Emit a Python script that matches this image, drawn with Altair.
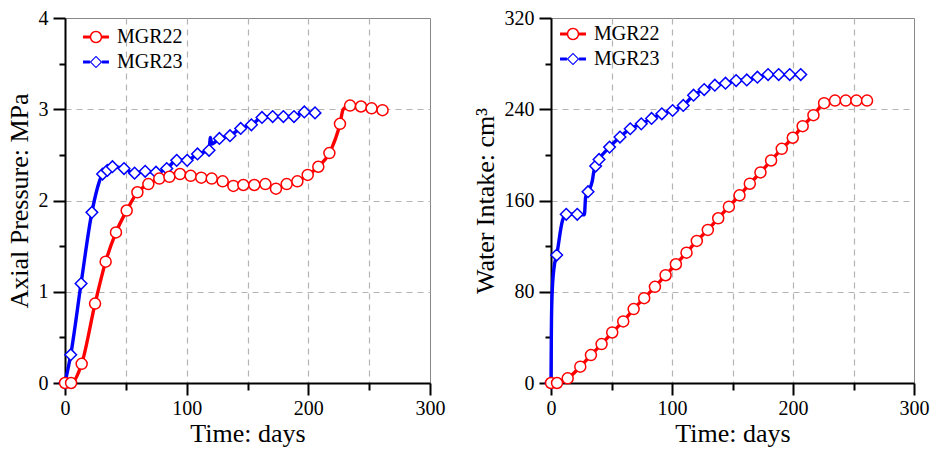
import altair as alt
import pandas as pd

SERIES = ["MGR22", "MGR23"]
COLORS = ["#ff0000", "#0000ff"]
FONT = "Liberation Serif"

# ---- Axial pressure (MPa) ----
ap22_day = [0, 5, 13.7, 24.7, 33.4, 41.9, 50.7, 59.5, 68.5, 77.5, 85.8, 94.5, 103.3, 112, 120.6,
            129.6, 138.4, 146.6, 155.6, 164.7, 173.4, 182.2, 191, 199.5, 208.2, 217.3, 226, 228.7,
            234.3, 243.3, 252, 261, 265.5]
ap22_val = [0, 0, 0.21, 0.87, 1.33, 1.65, 1.89, 2.09, 2.18, 2.24, 2.26, 2.29, 2.27, 2.25, 2.24,
            2.21, 2.16, 2.17, 2.17, 2.18, 2.13, 2.18, 2.21, 2.28, 2.37, 2.52, 2.84, 3.0,
            3.04, 3.03, 3.01, 2.99, 2.99]
ap22_mark = [1] * 27 + [0] + [1] * 4 + [0]

ap23_day = [0, 4.7, 13.2, 22.1, 30.9, 34.8, 39.0, 48.5, 57.2, 65.9, 74.8, 83.6, 91.8, 100.4, 108.9,
            118.4, 119.5, 120.6, 126.9, 135.6, 144.4, 153.2, 161.9, 170.7, 179.5, 188.2, 196.7,
            205.5, 209.5]
ap23_val = [0, 0.31, 1.09, 1.87, 2.29, 2.33, 2.37, 2.35, 2.30, 2.32, 2.31, 2.35, 2.44, 2.44, 2.51,
            2.55, 2.69, 2.62, 2.68, 2.71, 2.79, 2.83, 2.91, 2.92, 2.92, 2.92, 2.97, 2.96, 2.96]
ap23_mark = [1] * 16 + [0, 0] + [1] * 10 + [0]

# ---- Water intake (cm3) ----
wi22_day = [0, 5, 13.8, 24.2, 33, 41.8, 50.6, 59.7, 68.3, 77, 85.9, 94.7, 103.2, 112, 120.5, 129.6,
            138.2, 147, 155.8, 164.3, 173.1, 181.9, 190.7, 199.8, 208, 216.9, 225.7, 234.7, 243.6,
            252.4, 261.2, 265.5]
wi22_val = [0, 0, 4.1, 14.3, 24.5, 34.1, 44.3, 54, 64.8, 74.4, 84.3, 94.5, 104.1, 114.3, 124.6,
            134.2, 144.4, 154.6, 164.5, 174.7, 184.6, 195.1, 205.3, 215, 225.2, 234.8, 245.3, 247.6,
            247.6, 247.6, 247.6, 247.6]
wi22_mark = [1] * 31 + [0]

wi23_day = [0, 0.3, 0.8, 2.5, 4.7, 9.4, 12.6, 21.7, 27.6, 28.6, 30.6, 34.1, 35.5, 36.9, 39.7, 48.4,
            57, 65.5, 74.6, 83.1, 91.6, 100.5, 109.3, 117.8, 126.6, 135.4, 144.2, 153, 161.8, 170.6,
            179.4, 188.2, 197.3, 206.4]
wi23_val = [0, 45, 75, 101, 112.2, 142, 147.9, 147.9, 147.5, 163, 167.7, 177, 186, 190.2, 196,
            206.8, 215.6, 222.9, 227.2, 231.9, 236, 238.9, 243.3, 252.3, 257.3, 261.1, 262.8, 265.2,
            265.7, 268.1, 270.4, 270.4, 270.4, 270.4]
wi23_mark = [1, 0, 0, 0, 1, 0, 1, 1, 0, 0, 1, 0, 0, 1, 1] + [1] * 19


def frame(d22, v22, m22, d23, v23, m23):
    rows = []
    for s, ds, vs, ms in (("MGR22", d22, v22, m22), ("MGR23", d23, v23, m23)):
        for i, (d, v, m) in enumerate(zip(ds, vs, ms)):
            rows.append({"series": s, "day": d, "value": v, "mark": m, "order": i})
    return pd.DataFrame(rows)


# legend symbols: line segment + hollow marker, drawn as filled ring paths
LINE_SEG = "M-2.36,-0.27L-1.1,-0.27L-1.1,0.27L-2.36,0.27Z M1.1,-0.27L2.36,-0.27L2.36,0.27L1.1,0.27Z "
CIRCLE_PATH = (LINE_SEG + "M1.13,0A1.13,1.13,0,1,1,-1.13,0A1.13,1.13,0,1,1,1.13,0Z "
               "M0.86,0A0.86,0.86,0,1,0,-0.86,0A0.86,0.86,0,1,0,0.86,0Z")
DIAMOND_PATH = (LINE_SEG + "M0,-1.15L1.15,0L0,1.15L-1.15,0Z "
                "M0,-0.86L-0.86,0L0,0.86L0.86,0Z")

X_TICKS = [0, 50, 100, 150, 200, 250, 300]


def panel(df, ymax, ystep, ymajor, ytitle, w, lx, ly):
    yticks = [ystep * i for i in range(int(round(ymax / ystep)) + 1)]
    xaxis = alt.Axis(
        values=X_TICKS,
        labelExpr="datum.value % 100 === 0 ? datum.label : ''",
        tickSize={"condition": {"test": "datum.value % 100 === 0", "value": 12}, "value": 7},
        gridOpacity={"condition": {"test": "datum.value > 0 && datum.value < 300", "value": 1}, "value": 0},
        labelPadding=3, titlePadding=2, labelFlush=False, labelOverlap=False, labelBound=False,
    )
    yaxis = alt.Axis(
        values=yticks,
        labelExpr=f"abs(datum.value % {ymajor}) < 1e-9 ? format(datum.value, 'd') : ''",
        tickSize={"condition": {"test": f"abs(datum.value % {ymajor}) < 1e-9", "value": 12}, "value": 6},
        gridOpacity={"condition": {"test": f"abs(datum.value % {ymajor}) < 1e-9 && datum.value > 0 && datum.value < {ymax}", "value": 1}, "value": 0},
        labelPadding=5, titlePadding=6, labelFlush=False, labelOverlap=False, labelBound=False,
    )
    x = alt.X("day:Q", scale=alt.Scale(domain=[0, 300], nice=False, zero=False), axis=xaxis, title="Time: days")
    y = alt.Y("value:Q", scale=alt.Scale(domain=[0, ymax], nice=False, zero=False), axis=yaxis, title=ytitle)
    base = alt.Chart(df)
    line22 = base.transform_filter("datum.series == 'MGR22'").mark_line(
        strokeWidth=3.4, interpolate="monotone", color=COLORS[0]
    ).encode(x=x, y=y, order="order:Q")
    line23 = base.transform_filter("datum.series == 'MGR23'").mark_line(
        strokeWidth=3.4, interpolate="monotone", color=COLORS[1]
    ).encode(x=x, y=y, order="order:Q")
    pts22 = base.transform_filter("datum.mark == 1 && datum.series == 'MGR22'").mark_point(
        shape="circle", size=121, filled=True, fill="white", stroke=COLORS[0], strokeWidth=1.5, opacity=1
    ).encode(x=x, y=y)
    pts23 = base.transform_filter("datum.mark == 1 && datum.series == 'MGR23'").mark_point(
        shape="diamond", size=135, filled=True, fill="white", stroke=COLORS[1], strokeWidth=1.5, opacity=1
    ).encode(x=x, y=y)
    leg = alt.Legend(orient="none", legendX=lx, legendY=ly, title=None, symbolSize=121,
                     labelFont=FONT, labelFontSize=20, labelColor="black", labelOffset=11,
                     rowPadding=5, padding=0, symbolStrokeWidth=0, symbolOpacity=1)
    legend_layer = base.transform_filter("datum.mark == 1").mark_point(filled=True, strokeWidth=0).encode(
        x=x, y=y,
        shape=alt.Shape("series:N", scale=alt.Scale(domain=SERIES, range=[CIRCLE_PATH, DIAMOND_PATH]), legend=leg),
        fill=alt.Fill("series:N", scale=alt.Scale(domain=SERIES, range=COLORS), legend=leg),
        opacity=alt.value(0),
    )
    return alt.layer(line23, line22, pts23, pts22, legend_layer).properties(width=w, height=365)


left = panel(frame(ap22_day, ap22_val, ap22_mark, ap23_day, ap23_val, ap23_mark),
             4, 0.5, 1, "Axial Pressure: MPa", 365, 21, 9)
right = panel(frame(wi22_day, wi22_val, wi22_mark, wi23_day, wi23_val, wi23_mark),
              320, 40, 80, "Water Intake: cm³", 363, 12, 6)

chart = alt.hconcat(left, right, spacing=25).resolve_scale(
    fill="independent", shape="independent"
).resolve_legend(
    fill="independent", shape="independent"
).properties(
    padding={"left": 5, "top": 7, "right": 5, "bottom": 0},
    background="white",
).configure_view(
    stroke="#888888", strokeWidth=1
).configure_axis(
    domainColor="black", domainWidth=2, tickColor="black", tickWidth=2,
    labelFont=FONT, labelFontSize=20, labelColor="black",
    titleFont=FONT, titleFontSize=26, titleFontWeight="normal", titleColor="black",
    gridColor="#b4b4b4", gridDash=[6, 5], gridWidth=1.2,
)

chart.save("out.html", embed_options={"renderer": "svg", "actions": False})
